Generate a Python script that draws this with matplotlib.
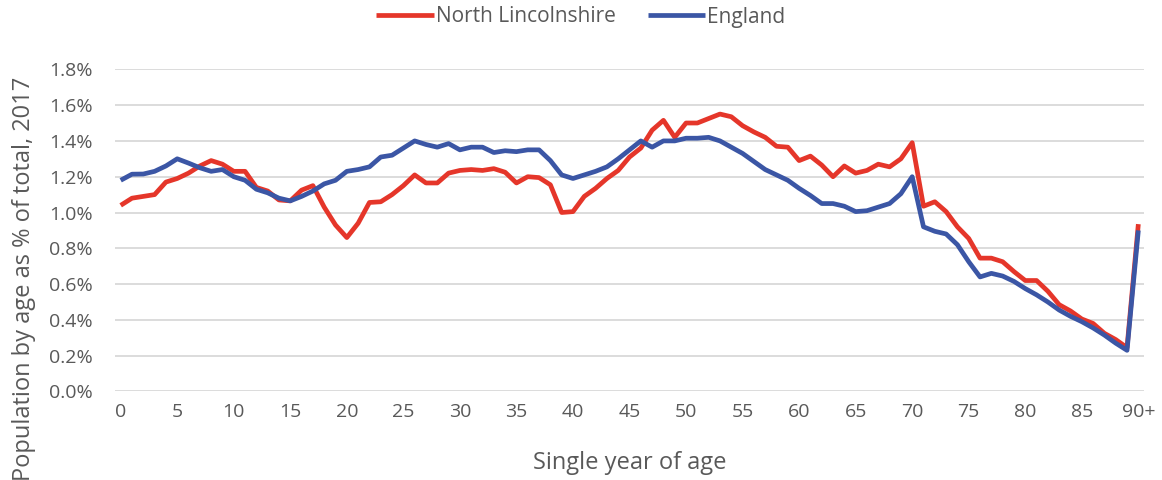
"""Population by single year of age as a share of the total, 2017:
North Lincolnshire against England."""

import matplotlib

matplotlib.use("Agg")
import matplotlib.pyplot as plt  # noqa: E402
from matplotlib.ticker import FuncFormatter  # noqa: E402

ages = list(range(91))
age_ticks = list(range(0, 91, 5))
age_tick_labels = [str(a) for a in range(0, 90, 5)] + ["90+"]

# % of total population at each single year of age (90 = 90 and over)
north_lincs = [
    1.04, 1.08, 1.09, 1.10, 1.17, 1.19, 1.22, 1.26, 1.29, 1.27,
    1.23, 1.23, 1.14, 1.12, 1.07, 1.065, 1.125, 1.15, 1.03, 0.93,
    0.86, 0.94, 1.056, 1.06, 1.10, 1.15, 1.21, 1.165, 1.165, 1.22,
    1.235, 1.24, 1.235, 1.245, 1.225, 1.165, 1.20, 1.195, 1.155, 1.00,
    1.005, 1.09, 1.135, 1.19, 1.235, 1.31, 1.36, 1.46, 1.515, 1.42,
    1.50, 1.50, 1.525, 1.55, 1.535, 1.485, 1.45, 1.42, 1.37, 1.365,
    1.29, 1.315, 1.265, 1.20, 1.26, 1.22, 1.235, 1.27, 1.255, 1.30,
    1.39, 1.035, 1.06, 1.005, 0.92, 0.855, 0.745, 0.745, 0.725, 0.67,
    0.62, 0.62, 0.56, 0.485, 0.45, 0.405, 0.38, 0.325, 0.29, 0.245,
    0.935,
]
england = [
    1.18, 1.214, 1.215, 1.23, 1.26, 1.30, 1.276, 1.25, 1.23, 1.24,
    1.20, 1.18, 1.13, 1.11, 1.08, 1.065, 1.09, 1.12, 1.16, 1.18,
    1.23, 1.24, 1.255, 1.31, 1.32, 1.36, 1.40, 1.38, 1.365, 1.385,
    1.35, 1.365, 1.365, 1.335, 1.345, 1.34, 1.35, 1.35, 1.29, 1.21,
    1.19, 1.21, 1.23, 1.255, 1.30, 1.35, 1.40, 1.365, 1.40, 1.40,
    1.415, 1.415, 1.42, 1.40, 1.365, 1.33, 1.285, 1.24, 1.21, 1.18,
    1.135, 1.095, 1.05, 1.05, 1.035, 1.005, 1.01, 1.03, 1.05, 1.105,
    1.20, 0.92, 0.895, 0.88, 0.82, 0.725, 0.64, 0.66, 0.645, 0.615,
    0.575, 0.54, 0.50, 0.455, 0.42, 0.39, 0.355, 0.315, 0.27, 0.23,
    0.90,
]

RED = "#E5362A"
BLUE = "#3B56A5"
TEXT = "#595959"
GRID = "#D9D9D9"

plt.rcParams["font.family"] = ["Open Sans", "DejaVu Sans"]

fig = plt.figure(figsize=(11.62, 4.80), dpi=100)
ax = fig.add_axes([0.099, 0.1844, 0.8855, 0.6712])

ax.plot(ages, north_lincs, color=RED, lw=3.4, solid_joinstyle="round",
        solid_capstyle="butt", label="North Lincolnshire", zorder=3)
ax.plot(ages, england, color=BLUE, lw=3.4, solid_joinstyle="round",
        solid_capstyle="butt", label="England", zorder=4)

ax.set_xlim(-0.5, 90.5)
ax.set_ylim(0, 1.8)
ax.set_yticks([i * 0.2 for i in range(10)])
ax.yaxis.set_major_formatter(FuncFormatter(lambda v, _: f"{v:.1f}%"))
ax.set_xticks(age_ticks)
ax.set_xticklabels(age_tick_labels)

ax.grid(axis="y", color=GRID, lw=1.3)
ax.set_axisbelow(True)
for s in ax.spines.values():
    s.set_visible(False)
ax.tick_params(axis="both", length=0, labelsize=14, colors=TEXT)
ax.tick_params(axis="y", pad=16)
ax.tick_params(axis="x", pad=8)

ax.set_xlabel("Single year of age", fontsize=17, color=TEXT, va="top")
ax.xaxis.set_label_coords(0.5, -0.185)
ax.set_ylabel("Population by age as % of total, 2017", fontsize=17,
              color=TEXT)
ax.yaxis.set_label_coords(-0.077, 0.35)

ax.legend(loc="center", bbox_to_anchor=(0.5, 1 - 17 / 480),
          bbox_transform=fig.transFigure, ncol=2, frameon=False,
          fontsize=15, labelcolor=TEXT, handlelength=2.75,
          handletextpad=0.1, columnspacing=1.55, borderpad=0)

fig.savefig("out.png", dpi=100)
